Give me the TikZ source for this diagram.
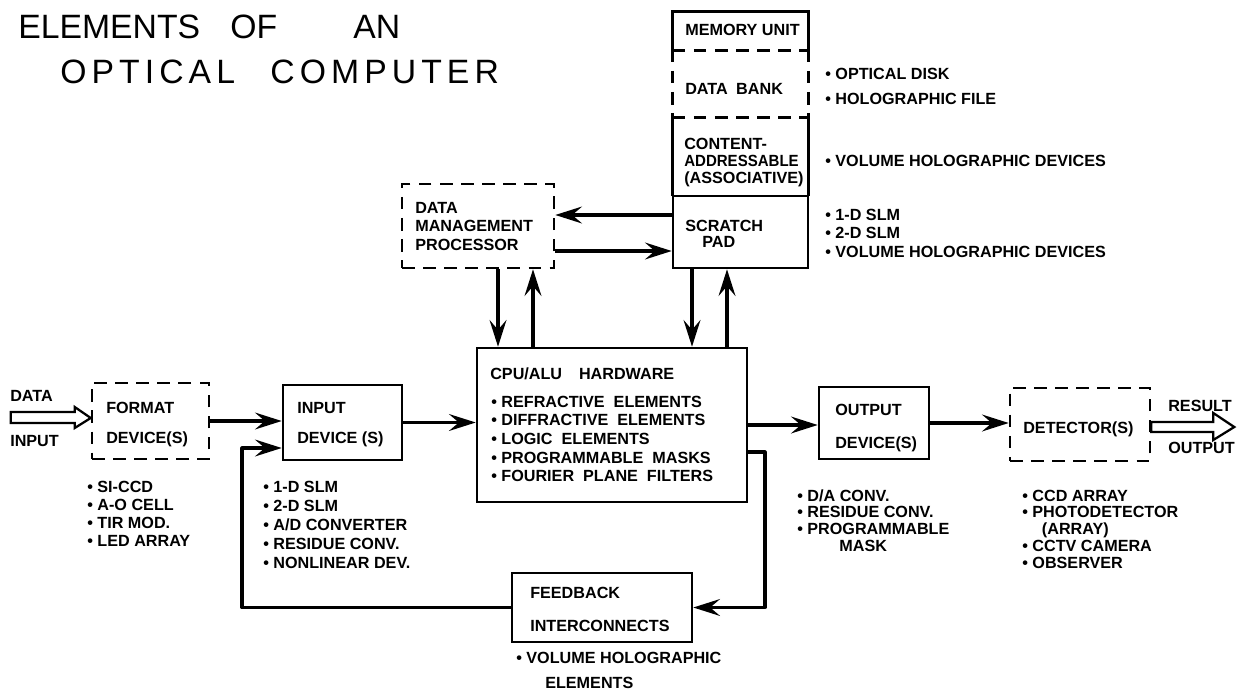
\documentclass[tikz,border=0pt]{standalone}
\usepackage{fontspec}
\setmainfont{Liberation Sans}
\usetikzlibrary{arrows.meta,fit,calc}

\tikzset{
	box/.style={draw, line width=1.8pt, inner sep=0pt},
	dbox/.style={box, dash pattern=on 9pt off 6pt},
	lbl/.style={anchor=base west, inner sep=0pt, font=\bfseries\fontsize{11.5}{13}\selectfont},
	ttl/.style={anchor=base west, inner sep=0pt, font=\fontsize{24}{28}\selectfont},
	arr/.style={line width=2.2pt, line join=round, -{Stealth[length=19pt, width=12pt, inset=7pt]}},
	hollow/.style={line width=1.6pt, line join=miter},
}

\begin{document}
\begin{tikzpicture}[x=0.025cm, y=-0.025cm]

	\useasboundingbox (0,0) rectangle (1240,696);

	% title
	\node[ttl] (title1) at (18,39)
		{\makebox[5.3cm][l]{ELEMENTS}\makebox[3.075cm][l]{OF}AN};
	\node[ttl] (title2) at (60,83)
		{\addfontfeature{LetterSpace=15}\makebox[5.25cm][l]{OPTICAL}COMPUTER};

	% main boxes
	\node[dbox, fit={(92,383) (209,459)}] (fmt) {};
	\node[box, fit={(283,385) (402,460)}] (inp) {};
	\node[box, fit={(477,348) (747,502)}] (cpu) {};
	\node[box, fit={(819,387) (929,459)}] (out) {};
	\node[dbox, fit={(1010,388) (1150,461)}] (det) {};
	\node[box, fit={(512,573) (692,642)}] (fbk) {};
	\node[dbox, fit={(402,184) (554,268)}] (dmp) {};

	% memory unit column
	\node[inner sep=0pt, fit={(673,12) (808,50)}] (mem) {};
	\node[inner sep=0pt, fit={(673,50) (808,118)}] (bank) {};
	\node[inner sep=0pt, fit={(673,118) (808,196)}] (cam) {};
	\node[box, fit={(673,196) (808,268)}] (pad) {};

	\draw[line width=1.8pt] (mem.south west) |- (mem.north east) -- (mem.south east);
	\draw[line width=1.8pt, dash pattern=on 9pt off 6pt] (mem.south west) -- (mem.south east);
	\draw[line width=1.8pt, dash pattern=on 9pt off 6pt] (bank.north west) -- (bank.south west);
	\draw[line width=1.8pt, dash pattern=on 9pt off 6pt] (bank.north east) -- (bank.south east);
	\draw[line width=1.8pt, dash pattern=on 9pt off 6pt] (cam.north west) -- (cam.north east);
	\draw[line width=1.8pt] (cam.north west) -- (cam.south west);
	\draw[line width=1.8pt] (cam.north east) -- (cam.south east);

	% texts in boxes
	\node[lbl] (fmt-t1) at (106,413) {FORMAT};
	\node[lbl] (fmt-t2) at (106,443) {DEVICE(S)};
	\node[lbl] (inp-t1) at (297,413) {INPUT};
	\node[lbl] (inp-t2) at (297,443) {DEVICE (S)};
	\node[lbl] (out-t1) at (835,415) {OUTPUT};
	\node[lbl] (out-t2) at (835,448) {DEVICE(S)};
	\node[lbl] (det-t1) at (1023,433) {DETECTOR(S)};
	\node[lbl] (fbk-t1) at (530,598) {FEEDBACK};
	\node[lbl] (fbk-t2) at (530,631) {INTERCONNECTS};
	\node[lbl] (dmp-t1) at (415,213) {DATA};
	\node[lbl] (dmp-t2) at (415,231) {MANAGEMENT};
	\node[lbl] (dmp-t3) at (415,250) {PROCESSOR};
	\node[lbl] (mem-t1) at (685,36) {MEMORY UNIT};
	\node[lbl] (bank-t1) at (685,94) {DATA\hspace{6pt}BANK};
	\node[lbl] (cam-t1) at (684,149) {CONTENT-};
	\node[lbl] (cam-t2) at (684,166) {\scalebox{0.93}[1]{ADDRESSABLE}};
	\node[lbl] (cam-t3) at (684,183) {(ASSOCIATIVE)};
	\node[lbl] (pad-t1) at (685,231) {SCRATCH};
	\node[lbl] (pad-t2) at (702,247) {PAD};
	\node[lbl] (cpu-t1) at (490,379) {CPU/ALU\hspace{12pt}HARDWARE};
	\foreach \s [count=\i from 0] in {• REFRACTIVE\ \ ELEMENTS, • DIFFRACTIVE\ \ ELEMENTS,
		• LOGIC\ \ ELEMENTS, • PROGRAMMABLE\ \ MASKS, • FOURIER\ \ PLANE\ \ FILTERS}
		\node[lbl] (cpu-l\i) at (491,{407+18.7*\i}) {\s};

	% outside labels
	\node[lbl] (din-t1) at (10,401) {DATA};
	\node[lbl] (din-t2) at (10,446) {INPUT};
	\node[lbl] (dout-t1) at (1168,411) {RESULT};
	\node[lbl] (dout-t2) at (1168,453) {OUTPUT};

	\foreach \s [count=\i from 0] in {• SI-CCD, • A-O CELL, • TIR MOD., • LED ARRAY}
		\node[lbl] (fmt-l\i) at (87,{492+18.3*\i}) {\s};
	\foreach \s [count=\i from 0] in {• 1-D SLM, • 2-D SLM, • A/D CONVERTER,
		• RESIDUE CONV., • NONLINEAR DEV.}
		\node[lbl] (inp-l\i) at (263,{492+19*\i}) {\s};
	\foreach \s [count=\i from 0] in {• D/A CONV., • RESIDUE CONV., • PROGRAMMABLE,
		\hspace*{30pt}MASK}
		\node[lbl] (out-l\i) at (797,{501+16.7*\i}) {\s};
	\foreach \s [count=\i from 0] in {• CCD ARRAY, • PHOTODETECTOR, \hspace*{14pt}(ARRAY),
		• CCTV CAMERA, • OBSERVER}
		\node[lbl] (det-l\i) at (1022,{501+16.8*\i}) {\s};
	\node[lbl] (fbk-l0) at (516,663) {• VOLUME HOLOGRAPHIC};
	\node[lbl] (fbk-l1) at (545,688) {ELEMENTS};

	\node[lbl] (bank-l0) at (825,79) {• OPTICAL DISK};
	\node[lbl] (bank-l1) at (825,104) {• HOLOGRAPHIC FILE};
	\node[lbl] (cam-l0) at (825,166) {• VOLUME HOLOGRAPHIC DEVICES};
	\node[lbl] (pad-l0) at (825,220) {• 1-D SLM};
	\node[lbl] (pad-l1) at (825,238) {• 2-D SLM};
	\node[lbl] (pad-l2) at (825,257) {• VOLUME HOLOGRAPHIC DEVICES};

	% connectors
	\coordinate (din) at (0,418);
	\coordinate (dout) at (0,427);
	\coordinate (loopR) at (765,452);
	\coordinate (loopL) at (242,448);
	\coordinate (c1) at (498,0);
	\coordinate (c2) at (533,0);
	\coordinate (c3) at (692,0);
	\coordinate (c4) at (727,0);
	\coordinate (r1) at (0,215);
	\coordinate (r2) at (0,251);

	\draw[hollow] (fmt.west |- din) -- ++(-16,-11) -- ++(0,5) -- ++(-64,0)
		-- ++(0,11) -- ++(64,0) -- ++(0,5) -- cycle;
	\draw[hollow] (det.east |- dout) ++(0,-5) -- ++(62,0) -- ++(0,-9) -- ++(21,14)
		-- ++(-21,13) -- ++(0,-8) -- ++(-62,0) -- cycle;

	\draw[arr] (fmt.east) -- (fmt.east -| inp.west);
	\draw[arr] (inp.east) -- (inp.east -| cpu.west);
	\draw[arr] (cpu.east) -- (cpu.east -| out.west);
	\draw[arr] (out.east) -- (out.east -| det.west);

	\draw[arr] (cpu.east |- loopR) -- (loopR) |- (fbk.east);
	\draw[arr] (fbk.west) -| (loopL) -- (inp.west |- loopL);

	\draw[arr] (dmp.south -| c1) -- (cpu.north -| c1);
	\draw[arr] (cpu.north -| c2) -- (dmp.south -| c2);
	\draw[arr] (pad.south -| c3) -- (cpu.north -| c3);
	\draw[arr] (cpu.north -| c4) -- (pad.south -| c4);

	\draw[arr] (pad.west |- r1) -- (dmp.east |- r1);
	\draw[arr] (dmp.east |- r2) -- (pad.west |- r2);

\end{tikzpicture}
\end{document}
